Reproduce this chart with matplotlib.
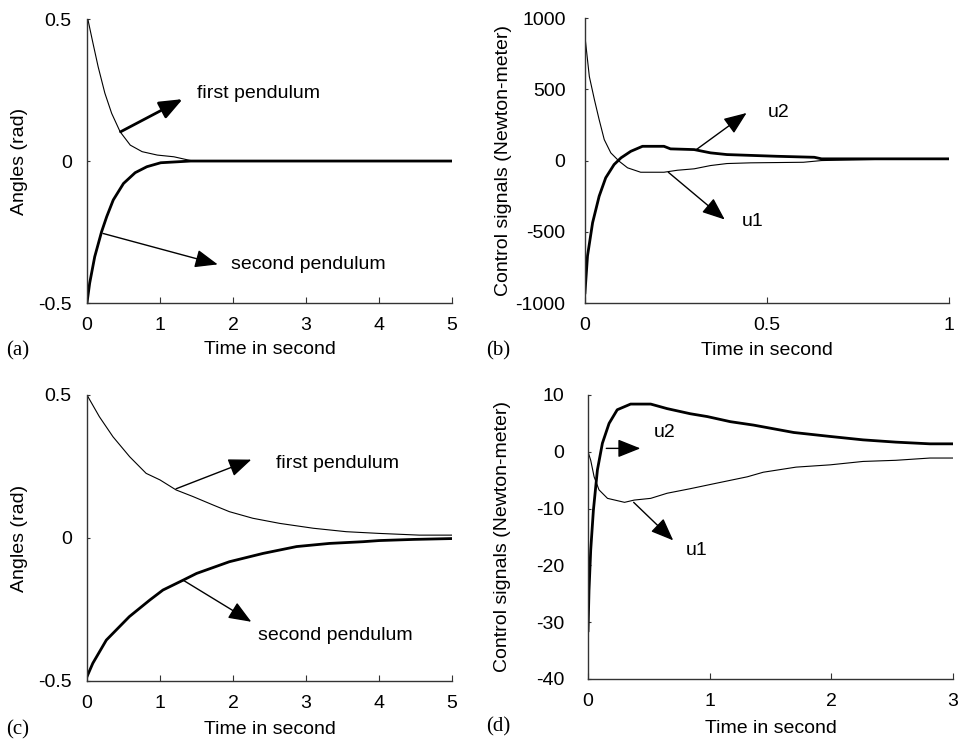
#%%
# Double pendulum control results - 4 panels
import numpy as np
import matplotlib.pyplot as plt

plt.rcParams['font.family'] = ['Liberation Sans', 'DejaVu Sans']
plt.rcParams['font.size'] = 14

#%%
# panel (a) - angles, fast controller
t_a1 = [0, 0.014, 0.083, 0.153, 0.245, 0.338, 0.454, 0.593, 0.755, 0.963, 1.19, 1.38, 1.45, 5.0]
th1_a = [0.5, 0.497, 0.414, 0.332, 0.239, 0.168, 0.103, 0.056, 0.033, 0.021, 0.015, 0.004, 0.0, 0.0]
t_a2 = [0, 0.037, 0.106, 0.2, 0.27, 0.36, 0.5, 0.66, 0.82, 1.01, 1.42, 5.0]
th2_a = [-0.5, -0.43, -0.337, -0.249, -0.196, -0.137, -0.079, -0.041, -0.02, -0.006, 0.0, 0.0]

# panel (b) - control torques, fast controller
t_b1 = [0, 0.012, 0.026, 0.039, 0.053, 0.071, 0.094, 0.117, 0.153, 0.217, 0.254, 0.3, 0.345, 0.39,
        0.455, 0.6, 0.65, 0.8, 1.0]
u1_b = [870, 590, 427, 287, 147, 54, -5, -51, -82, -82, -68, -58, -35, -21,
        -16, -12, 0, 8, 10]
t_b2 = [0, 0.007, 0.021, 0.039, 0.057, 0.08, 0.099, 0.126, 0.158, 0.217, 0.235, 0.3, 0.345, 0.39,
        0.527, 0.63, 0.65, 1.0]
u2_b = [-928, -669, -436, -250, -121, -28, 19, 65, 100, 100, 82, 77, 54, 42,
        30, 23, 12, 12]

# panel (c) - angles, slow controller
t_c1 = [0, 0.17, 0.356, 0.585, 0.81, 1.0, 1.22, 1.45, 1.73, 1.95, 2.27, 2.64, 3.1, 3.55, 4.0, 4.55, 5.0]
th1_c = [0.5, 0.424, 0.354, 0.284, 0.226, 0.203, 0.168, 0.145, 0.115, 0.092, 0.069, 0.051, 0.034,
         0.022, 0.016, 0.01, 0.01]
t_c2 = [0, 0.08, 0.265, 0.58, 0.86, 1.04, 1.32, 1.5, 1.95, 2.41, 2.87, 3.32, 3.78, 4.0, 4.47, 5.0]
th2_c = [-0.485, -0.438, -0.357, -0.275, -0.217, -0.182, -0.147, -0.124, -0.083, -0.054, -0.03,
         -0.019, -0.013, -0.009, -0.005, -0.002]

# panel (d) - control torques, slow controller
t_d2 = [0, 0.008, 0.022, 0.044, 0.077, 0.118, 0.173, 0.24, 0.35, 0.515, 0.65, 0.84, 0.98, 1.17,
        1.36, 1.69, 1.99, 2.26, 2.53, 2.81, 3.0]
u2_d = [-31.5, -24.4, -17.3, -10.3, -3.2, 1.5, 5.0, 7.4, 8.4, 8.4, 7.6, 6.7, 6.2, 5.3,
        4.7, 3.4, 2.7, 2.1, 1.7, 1.4, 1.4]
t_d1 = [0, 0.022, 0.05, 0.09, 0.16, 0.24, 0.3, 0.38, 0.515, 0.65, 0.84, 1.04, 1.31, 1.44, 1.71,
        1.99, 2.26, 2.53, 2.81, 3.0]
u1_d = [0, -1.5, -4.4, -6.7, -8.2, -8.6, -8.9, -8.5, -8.2, -7.3, -6.5, -5.6, -4.4, -3.6, -2.7,
        -2.3, -1.7, -1.5, -1.1, -1.1]

#%%
fig = plt.figure(figsize=(9.61, 7.44), dpi=100)
ax_a = fig.add_axes([0.0905, 0.5927, 0.380, 0.3817])
ax_b = fig.add_axes([0.6087, 0.5927, 0.3788, 0.383])
ax_c = fig.add_axes([0.0905, 0.0847, 0.380, 0.3844])
ax_d = fig.add_axes([0.6119, 0.0874, 0.3798, 0.3817])

def style(ax, xlim, xticks, xlabels, ylim, yticks, ylabels, ylabel, ypad, ylab_x, xlab_y):
    ax.set_xlim(xlim)
    ax.set_ylim(ylim)
    ax.set_xticks(xticks)
    ax.set_xticklabels(xlabels)
    ax.set_yticks(yticks)
    ax.set_yticklabels(ylabels)
    for s in ['top', 'right']:
        ax.spines[s].set_visible(False)
    for s in ['left', 'bottom']:
        ax.spines[s].set_color('#333333')
        ax.spines[s].set_linewidth(1.0)
    ax.tick_params(axis='x', direction='in', length=4, pad=10, color='#333333')
    ax.tick_params(axis='y', direction='in', length=2, pad=ypad, color='#333333')
    ax.set_xlabel('Time in second', va='center')
    ax.set_ylabel(ylabel, va='center')
    ax.xaxis.set_label_coords(0.5, xlab_y)
    ax.yaxis.set_label_coords(ylab_x, 0.5)

def arrow(ax, start, end, lw=1.0):
    ax.annotate('', xy=end, xytext=start,
                arrowprops=dict(arrowstyle='-|>,head_length=1.0,head_width=0.4',
                                lw=lw, color='black', shrinkA=0, shrinkB=0))

#%%
# (a)
ax_a.plot(t_a1, th1_a, color='black', lw=0.8)
ax_a.plot(t_a2, th2_a, color='black', lw=2.0)
style(ax_a, (0, 5), [0, 1, 2, 3, 4, 5], ['0', '1', '2', '3', '4', '5'],
      (-0.5, 0.5), [-0.5, 0, 0.5], ['-0.5', '0', '0.5'], 'Angles (rad)', 11, -0.184, -0.165)
arrow(ax_a, (0.46, 0.103), (1.31, 0.218), lw=2.0)
ax_a.text(1.51, 0.238, 'first pendulum', va='center')
arrow(ax_a, (0.22, -0.255), (1.79, -0.364))
ax_a.text(1.97, -0.364, 'second pendulum', va='center')

# (b)
ax_b.plot(t_b1, u1_b, color='black', lw=0.8)
ax_b.plot(t_b2, u2_b, color='black', lw=2.0)
style(ax_b, (0, 1), [0, 0.5, 1], ['0', '0.5', '1'],
      (-1000, 1000), [-1000, -500, 0, 500, 1000], ['-1000', '-500', '0', '500', '1000'],
      'Control signals (Newton-meter)', 14, -0.225, -0.165)
arrow(ax_b, (0.306, 77), (0.444, 334))
ax_b.text(0.503, 334, 'u2', va='center')
arrow(ax_b, (0.229, -82), (0.384, -414))
ax_b.text(0.43, -425, 'u1', va='center')

# (c)
ax_c.plot(t_c1, th1_c, color='black', lw=0.8)
ax_c.plot(t_c2, th2_c, color='black', lw=2.0)
style(ax_c, (0, 5), [0, 1, 2, 3, 4, 5], ['0', '1', '2', '3', '4', '5'],
      (-0.5, 0.5), [-0.5, 0, 0.5], ['-0.5', '0', '0.5'], 'Angles (rad)', 11, -0.184, -0.168)
arrow(ax_c, (1.22, 0.172), (2.25, 0.274))
ax_c.text(2.59, 0.259, 'first pendulum', va='center')
arrow(ax_c, (1.32, -0.148), (2.25, -0.293))
ax_c.text(2.34, -0.34, 'second pendulum', va='center')

# (d)
ax_d.plot(t_d1, u1_d, color='black', lw=0.8)
ax_d.plot(t_d2, u2_d, color='black', lw=2.0)
style(ax_d, (0, 3), [0, 1, 2, 3], ['0', '1', '2', '3'],
      (-40, 10), [-40, -30, -20, -10, 0, 10], ['-40', '-30', '-20', '-10', '0', '10'],
      'Control signals (Newton-meter)', 17, -0.233, -0.176)
arrow(ax_d, (0.15, 0.6), (0.43, 0.6))
ax_d.text(0.54, 3.4, 'u2', va='center')
arrow(ax_d, (0.375, -8.9), (0.70, -15.6))
ax_d.text(0.8, -17.4, 'u1', va='center')

#%%
# panel letters in serif font
for lbl, x, y in [('(a)', 0.006, 0.529), ('(b)', 0.506, 0.529),
                  ('(c)', 0.006, 0.019), ('(d)', 0.506, 0.023)]:
    fig.text(x, y, lbl, family=['Liberation Serif', 'DejaVu Serif'], fontsize=15, va='center')

fig.savefig('out.png', dpi=100)
